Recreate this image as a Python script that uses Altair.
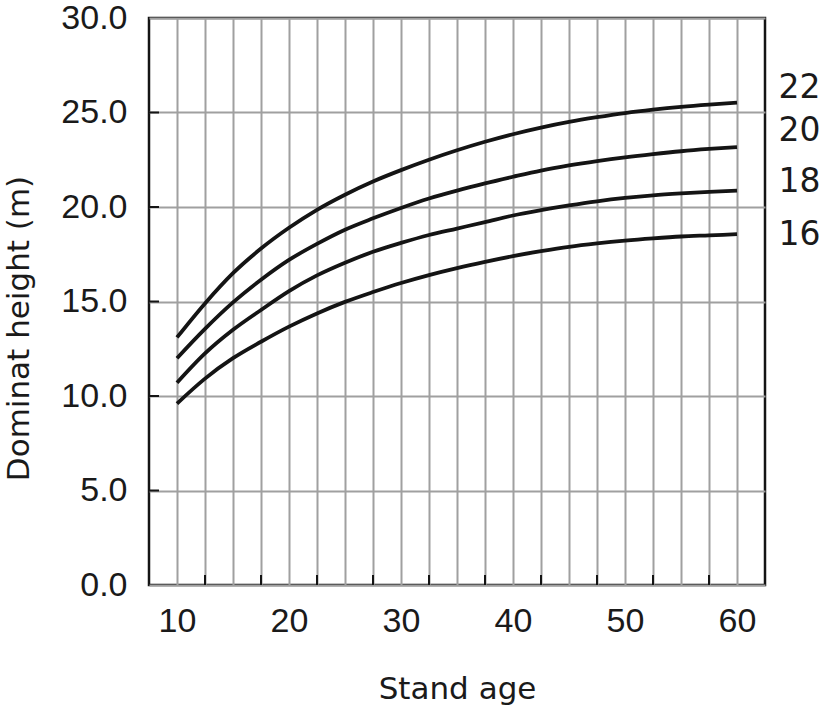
import altair as alt
import pandas as pd

# ---- data ----
ages = [10, 12.5, 15, 17.5, 20, 22.5, 25, 27.5, 30, 32.5, 35, 37.5, 40,
        42.5, 45, 47.5, 50, 52.5, 55, 57.5, 60]
si22 = [13.1, 14.9, 16.5, 17.8, 18.9, 19.85, 20.65, 21.35, 21.95, 22.5, 23.0,
        23.45, 23.85, 24.2, 24.5, 24.75, 24.97, 25.15, 25.3, 25.42, 25.52]
si20 = [12.0, 13.55, 14.95, 16.15, 17.2, 18.05, 18.8, 19.4, 19.95, 20.45, 20.87,
        21.25, 21.6, 21.93, 22.2, 22.43, 22.63, 22.8, 22.95, 23.07, 23.17]
si18 = [10.7, 12.25, 13.5, 14.55, 15.55, 16.38, 17.05, 17.63, 18.1, 18.52, 18.86,
        19.2, 19.55, 19.83, 20.08, 20.3, 20.48, 20.62, 20.72, 20.8, 20.87]
si16 = [9.6, 10.92, 12.0, 12.87, 13.67, 14.37, 14.98, 15.5, 15.98, 16.4, 16.77,
        17.1, 17.4, 17.66, 17.89, 18.07, 18.22, 18.34, 18.44, 18.5, 18.56]

site_labels = ["22", "20", "18", "16"]
label_age = [63.7, 63.7, 63.7, 63.7]
label_h = [26.3, 24.0, 21.3, 18.5]

x_grid = [10, 12.5, 15, 17.5, 20, 22.5, 25, 27.5, 30, 32.5, 35, 37.5, 40,
          42.5, 45, 47.5, 50, 52.5, 55, 57.5, 60]
x_ticks = [12.5, 17.5, 22.5, 27.5, 32.5, 37.5, 42.5, 47.5, 52.5, 57.5]
y_values = [0, 5, 10, 15, 20, 25, 30]
y_ticks = [5, 10, 15, 20, 25]

rows = []
for name, vals in [("22", si22), ("20", si20), ("18", si18), ("16", si16)]:
    for a, h in zip(ages, vals):
        rows.append({"si": name, "age": a, "h": h})
df = pd.DataFrame(rows)

W, H = 616, 567

x_scale = alt.Scale(domain=[7.5, 62.5], nice=False, zero=False)
y_scale = alt.Scale(domain=[0, 30], nice=False)

x_axis = alt.Axis(
    values=x_grid, grid=True, ticks=False, tickSize=0, domain=False,
    labelExpr="datum.value % 10 == 0 ? datum.value : ''",
    labelFont="Liberation Sans", labelFontSize=34, labelColor="#1a1a1a",
    labelPadding=19, labelFlush=False, labelOverlap=False,
    title="Stand age", titleFont="DejaVu Sans", titleFontSize=31,
    titleFontWeight="normal", titleColor="#1a1a1a",
    titleBaseline="alphabetic", titleY=113,
)
y_axis = alt.Axis(
    values=y_values, grid=True, ticks=False, tickSize=0, domain=False,
    format=".1f",
    labelFont="Liberation Sans", labelFontSize=34, labelColor="#1a1a1a",
    labelPadding=22, labelFlush=False, labelOverlap=False,
    title="Dominat height (m)", titleFont="DejaVu Sans", titleFontSize=31,
    titleFontWeight="normal", titleColor="#1a1a1a",
    titleBaseline="alphabetic", titleAngle=270, titleX=-121, titleY=310,
    titleAlign="center",
)

X = alt.X("age:Q", scale=x_scale, axis=x_axis)
Y = alt.Y("h:Q", scale=y_scale, axis=y_axis)

lines = alt.Chart(df).mark_line(
    color="#141414", strokeWidth=3.8, interpolate="monotone"
).encode(x=X, y=Y, detail="si:N")

xt = alt.Chart(pd.DataFrame({"age": x_ticks})).mark_rule(
    color="#141414", strokeWidth=2
).encode(x=X, y=alt.value(H), y2=alt.value(H - 10))

yt = alt.Chart(pd.DataFrame({"h": y_ticks})).mark_rule(
    color="#141414", strokeWidth=2
).encode(y=Y, x=alt.value(0), x2=alt.value(10))

labels = alt.Chart(pd.DataFrame({"age": label_age, "h": label_h, "lab": site_labels})).mark_text(
    align="left", baseline="middle", font="DejaVu Sans", fontSize=33, color="#1a1a1a"
).encode(x=X, y=Y, text="lab:N")

chart = alt.layer(lines, xt, yt, labels).properties(
    width=W, height=H,
    autosize=alt.AutoSizeParams(type="none"),
    padding={"left": 149, "top": 18, "right": 62, "bottom": 126},
    background="white",
).configure_view(
    stroke="#141414", strokeWidth=2.5
).configure_axis(
    gridColor="#a0a0a0", gridWidth=2, gridOpacity=1
)

chart.save("out.html", embed_options={"renderer": "svg", "actions": False})
